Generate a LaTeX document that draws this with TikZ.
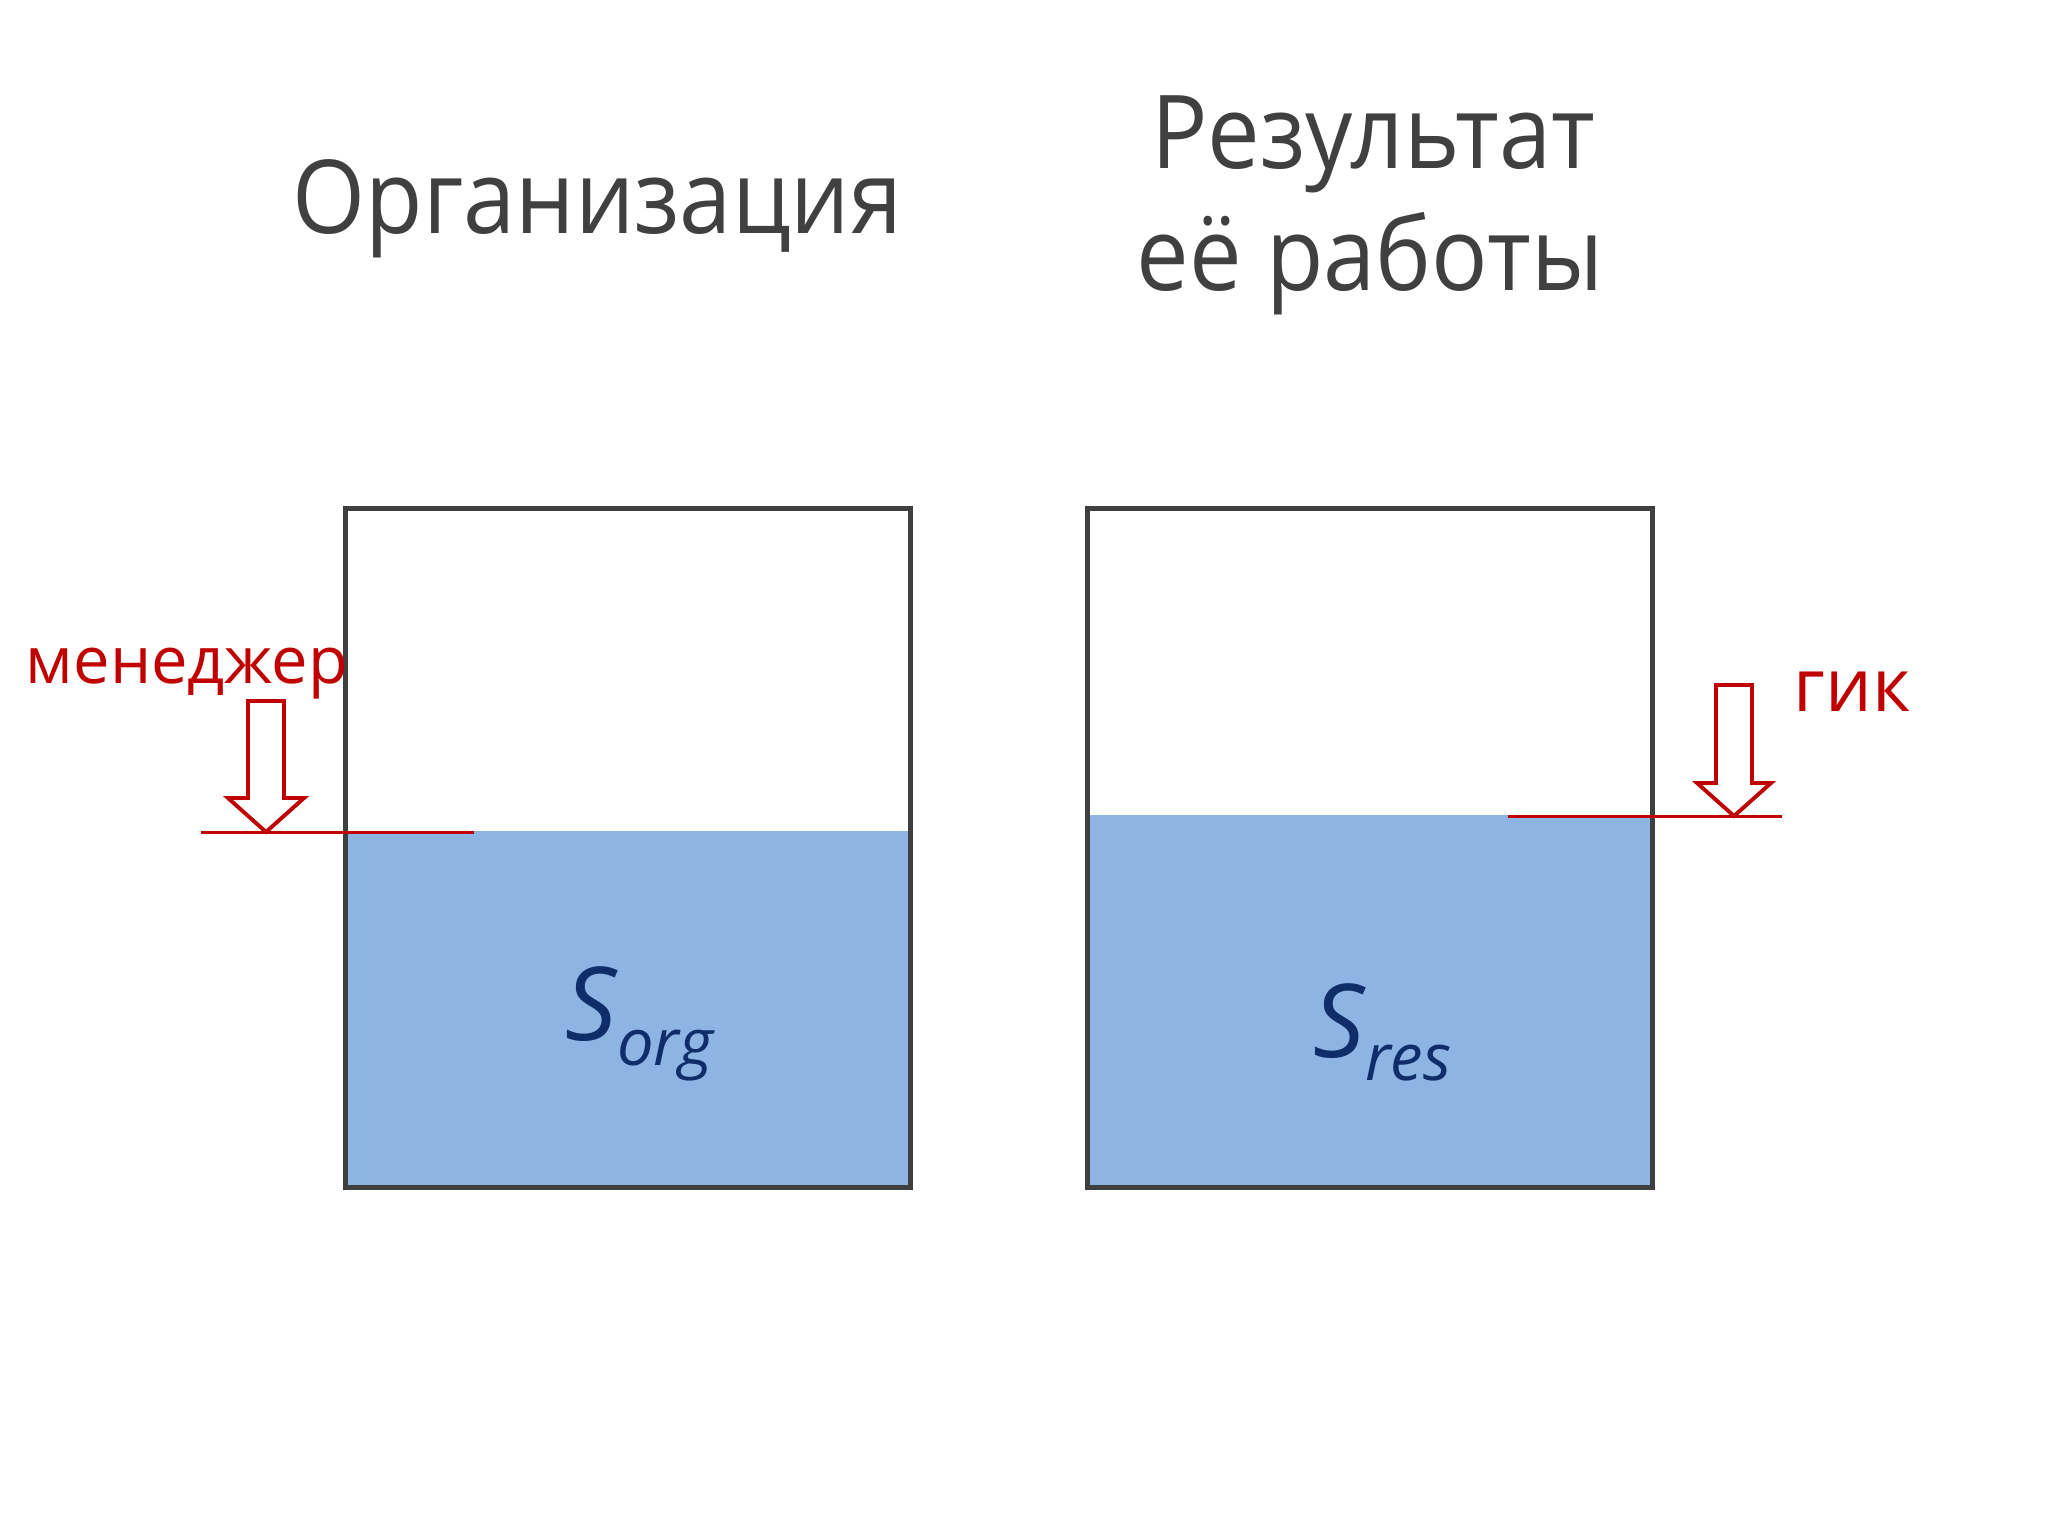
\documentclass[tikz,border=0pt]{standalone}
\usepackage{fontspec}
\setmainfont{Open Sans}
\newfontfamily\headfont{Open Sans}[FakeStretch=0.92]
\usepackage{tikz}
\usetikzlibrary{calc,positioning}
\tikzset{>=latex}
\definecolor{txtgray}{HTML}{404040}
\definecolor{tankgray}{HTML}{3F3F3F}
\definecolor{lvlred}{HTML}{C00000}
\definecolor{water}{HTML}{8EB4E3}
\definecolor{sblue}{HTML}{0F2D69}

\begin{document}
\begin{tikzpicture}[x=0.01cm,y=-0.01cm]
      \tikzstyle{title}=[text=txtgray,inner sep=0pt,font=\headfont\fontsize{29}{35}\selectfont]
      \tikzstyle{tank}=[draw=tankgray,line width=1.4pt,minimum width=5.64cm,minimum height=6.78cm,inner sep=0pt]
      \tikzstyle{fluid}=[fill=water,draw=none,minimum width=5.6cm,inner sep=0pt,anchor=south]
      \tikzstyle{level}=[draw=lvlred,line width=0.85pt]
      \tikzstyle{push}=[draw=lvlred,line width=1.1pt,fill=white,line join=miter]
      \tikzstyle{who}=[text=lvlred,inner sep=0pt,anchor=base west]
      \tikzstyle{area}=[text=sblue,inner sep=0pt,anchor=base west,font=\itshape\fontsize{29}{29}\selectfont]
      \useasboundingbox (0,0) rectangle (2048,1536);
      %%% titles
      \node[title,anchor=base west] (orgtitle) at (292,233) {Организация};
      \node[title,anchor=base] (restitle) at (1373,168) {Результат};
      \node[title,anchor=base] (restitle2) at (1370,290) {её работы};
      %%% Organisation
      \node[fluid,minimum height=3.55cm] (orgwater) at (628,1187) {};
      \node[tank] (org) at (628,848) {};
      \node[area] (sorg) at (565,1040) {S\fontsize{18.5}{18.5}\selectfont\raisebox{-0.25cm}{org}};
      \coordinate (orgL) at (201,832);
      \coordinate (orgR) at (474,832);
      \draw[level] (orgL) -- (orgR);
      \coordinate (mtip) at (266,832);
      \draw[push] (mtip) -- ++(-38,-34) -- ++(20,0) -- ++(0,-97) -- ++(36,0) -- ++(0,97) -- ++(20,0) -- cycle;
      \node[who,font=\fontsize{18.5}{18.5}\selectfont] (manager) at (25,683) {менеджер};
      %%% Result
      \node[fluid,minimum height=3.71cm] (reswater) at (1370,1187) {};
      \node[tank] (res) at (1370,848) {};
      \node[area] (sres) at (1313,1057) {S\fontsize{18.5}{18.5}\selectfont\raisebox{-0.23cm}{res}};
      \coordinate (resL) at (1508,816);
      \coordinate (resR) at (1782,816);
      \draw[level] (resL) -- (resR);
      \coordinate (gtip) at (1734,816);
      \draw[push] (gtip) -- ++(-37,-33) -- ++(19,0) -- ++(0,-98) -- ++(36,0) -- ++(0,98) -- ++(19,0) -- cycle;
      \node[who,font=\fontsize{21}{21}\selectfont] (geek) at (1793,711) {гик};
\end{tikzpicture}
\end{document}
